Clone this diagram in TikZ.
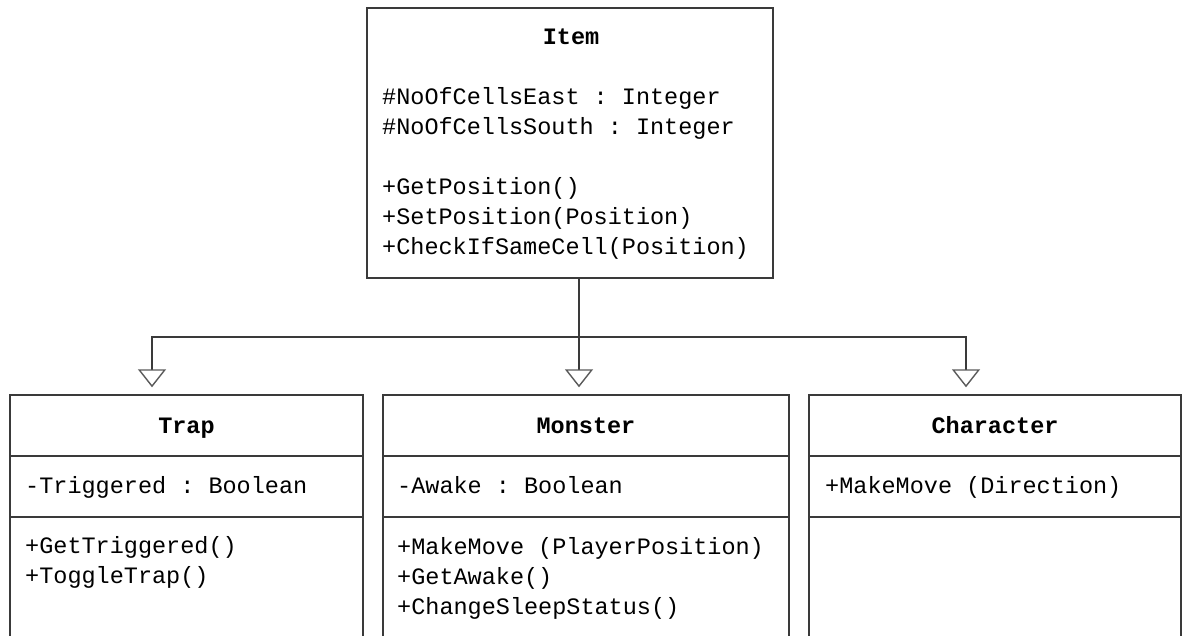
\documentclass[tikz,border=0pt]{standalone}
\usepackage{fontspec}
\setmonofont{Liberation Mono}
\usetikzlibrary{arrows.meta}
\definecolor{umlline}{HTML}{3A3A3A}
\definecolor{umltip}{HTML}{5A5A5A}
\tikzset{
  cls/.style={draw=umlline, line width=1.4pt, rectangle, inner sep=0pt},
  sep/.style={draw=umlline, line width=1.4pt},
  txt/.style={anchor=base west, inner sep=0pt},
  ttl/.style={anchor=base, inner sep=0pt, font=\ttfamily\bfseries\fontsize{23.5}{30}\selectfont},
  gen/.style={draw=umlline, line width=1.4pt,
    -{Triangle[open, length=18pt, width=28pt, color=umltip]}, shorten >=7pt}
}

\begin{document}
\begin{tikzpicture}[x=1pt, y=-1pt, font=\ttfamily\fontsize{23.5}{30}\selectfont]

	\clip (0,0) rectangle (1183,635);

	% class boxes
	\node[cls, minimum width=406, minimum height=270] (item) at (570,143) {};
	\node[cls, minimum width=353, minimum height=280] (trap) at (186.5,535) {};
	\node[cls, minimum width=406, minimum height=280] (monster) at (586,535) {};
	\node[cls, minimum width=372, minimum height=280] (character) at (995,535) {};

	% compartments
	\draw[sep] (trap.west |- 0,456) -- (trap.east |- 0,456);
	\draw[sep] (trap.west |- 0,517) -- (trap.east |- 0,517);
	\draw[sep] (monster.west |- 0,456) -- (monster.east |- 0,456);
	\draw[sep] (monster.west |- 0,517) -- (monster.east |- 0,517);
	\draw[sep] (character.west |- 0,456) -- (character.east |- 0,456);
	\draw[sep] (character.west |- 0,517) -- (character.east |- 0,517);

	% Item
	\node[ttl] (item-t) at (571,44) {Item};
	\node[txt] (item-a1) at (382,104) {\#NoOfCellsEast : Integer};
	\node[txt] (item-a2) at (382,134) {\#NoOfCellsSouth : Integer};
	\foreach \m [count=\i] in {{+GetPosition()},{+SetPosition(Position)},{+CheckIfSameCell(Position)}}
		\node[txt] (item-m\i) at (382,164+30*\i) {\m};

	% Trap
	\node[ttl] (trap-t) at (186.5,433) {Trap};
	\node[txt] (trap-a1) at (25,493) {-Triggered : Boolean};
	\foreach \m [count=\i] in {{+GetTriggered()},{+ToggleTrap()}}
		\node[txt] (trap-m\i) at (25,523+30*\i) {\m};

	% Monster
	\node[ttl] (monster-t) at (586,433) {Monster};
	\node[txt] (monster-a1) at (397,493) {-Awake : Boolean};
	\foreach \m [count=\i] in {{+MakeMove (PlayerPosition)},{+GetAwake()},{+ChangeSleepStatus()}}
		\node[txt] (monster-m\i) at (397,524+30*\i) {\m};

	% Character
	\node[ttl] (character-t) at (995,433) {Character};
	\node[txt] (character-a1) at (825,493) {+MakeMove (Direction)};

	% generalisation
	\coordinate (fork) at (579,337);
	\draw[sep] (item.south -| fork) -- (fork);
	\draw[gen] (fork) -| ([xshift=-34.5pt]trap.north);
	\draw[gen] (fork) -- (monster.north -| fork);
	\draw[gen] (fork) -| ([xshift=-29pt]character.north);

\end{tikzpicture}
\end{document}
